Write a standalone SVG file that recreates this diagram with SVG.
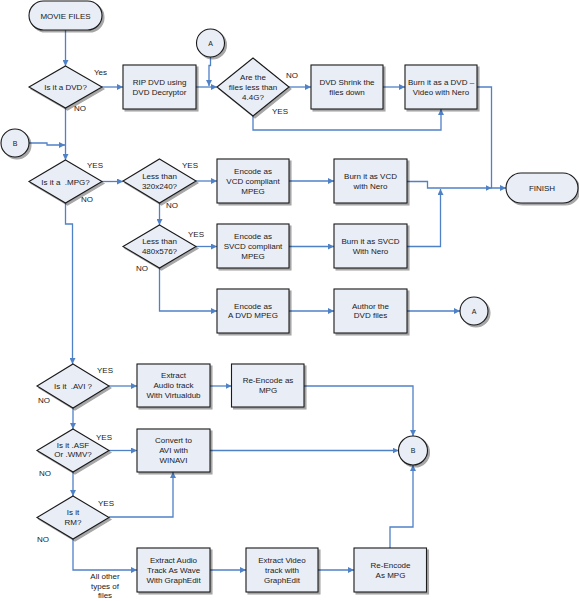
<svg xmlns="http://www.w3.org/2000/svg" width="579" height="601" viewBox="0 0 579 601">
<style>
.s{fill:#e9edf6;stroke:#1a1a1a;stroke-width:1.1;filter:url(#sh)}
.c path{fill:none;stroke:#4f81c7;stroke-width:1.3;marker-end:url(#ar)}
text{font-family:"Liberation Sans",Arial,sans-serif;font-size:8px;fill:#1a1a1a}
.m{text-anchor:middle}
.sm{font-size:7px}
</style>
<defs>
<filter id="sh" x="-10%" y="-10%" width="130%" height="130%">
<feGaussianBlur in="SourceAlpha" stdDeviation="0.6" result="b"/>
<feOffset in="b" dx="1.5" dy="1.5" result="o"/>
<feComponentTransfer in="o" result="o2"><feFuncA type="linear" slope="0.35"/></feComponentTransfer>
<feMerge><feMergeNode in="o2"/><feMergeNode in="SourceGraphic"/></feMerge>
</filter>
<marker id="ar" viewBox="0 0 6 6" refX="6" refY="3" markerWidth="6" markerHeight="6" markerUnits="userSpaceOnUse" orient="auto">
<path d="M0,0 L6,3 L0,6 z" fill="#4f81c7"/>
</marker>
</defs>

<g class="c" id="connectors">
<path d="M65.5,30 V66"/>
<path d="M102,87 H123"/>
<path d="M196,87 H217"/>
<path d="M210.5,57 V65.5 H209 V86"/>
<path d="M289,87 H311"/>
<path d="M383,87 H405"/>
<path d="M253,116 V130 H441 V109"/>
<path d="M477,87 H491.5 V188 H506"/>
<path d="M407,181.5 H427.5 V188 H491.5"/>
<path d="M407,246.5 H440.5 V189"/>
<path d="M65.5,108 V160"/>
<path d="M29,143 H47 V145 H65"/>
<path d="M102,181.5 H123"/>
<path d="M196,181 H217"/>
<path d="M289,181 H334"/>
<path d="M159.5,203 V225"/>
<path d="M196,246.5 H217"/>
<path d="M289,246.5 H334"/>
<path d="M159.5,268 V311 H217"/>
<path d="M289,311 H334"/>
<path d="M407,311 H460"/>
<path d="M65.5,203 V224 H72.5 V364"/>
<path d="M109,386 H137"/>
<path d="M210,386 H231.5"/>
<path d="M304,386 H413 V436"/>
<path d="M73,408 V429"/>
<path d="M109,450.5 H137"/>
<path d="M210,450.5 H398.5"/>
<path d="M73,472 V496"/>
<path d="M109,517 H173 V472"/>
<path d="M73,539 V570 H137"/>
<path d="M210,570 H246"/>
<path d="M318,570 H354"/>
<path d="M390,548 V527 H413 V465"/>
</g>

<g id="movie-files"><rect class="s" x="29" y="1" width="73" height="29" rx="14.5"/><text class="m" x="65.5" y="18.5">MOVIE FILES</text></g>
<g id="is-dvd"><polygon class="s" points="65.5,66 102,87 65.5,108 29,87"/><text class="m" x="65.5" y="90">Is it a DVD?</text><text x="94" y="75">Yes</text><text x="74" y="111">NO</text></g>
<g id="rip-dvd"><rect class="s" x="123" y="65" width="73" height="44"/><text class="m" x="159.5" y="84.5">RIP DVD using</text><text class="m" x="159.5" y="94.5">DVD Decryptor</text></g>
<g id="circle-a-top"><circle class="s" cx="210.5" cy="43" r="14"/><text class="m sm" x="210.5" y="45.5">A</text></g>
<g id="less-44g"><polygon class="s" points="253,58 289,87 253,116 217,87"/><text class="m" x="253" y="79.5">Are the</text><text class="m" x="253" y="89.5">files less than</text><text class="m" x="253" y="99.5">4.4G?</text><text x="286" y="78">NO</text><text x="272" y="114">YES</text></g>
<g id="dvd-shrink"><rect class="s" x="311" y="65" width="72" height="44"/><text class="m" x="347" y="84.5">DVD Shrink the</text><text class="m" x="347" y="94.5">files down</text></g>
<g id="burn-dvd"><rect class="s" x="405" y="65" width="72" height="44"/><text class="m" x="441" y="84.5">Burn it as a DVD –</text><text class="m" x="441" y="94.5">Video with Nero</text></g>
<g id="finish"><rect class="s" x="506" y="173" width="72" height="30" rx="15"/><text class="m" x="542" y="191">FINISH</text></g>
<g id="circle-b-left"><circle class="s" cx="15" cy="143" r="14"/><text class="m sm" x="15" y="145.5">B</text></g>
<g id="is-mpg"><polygon class="s" points="65.5,160 102,181.5 65.5,203 29,181.5"/><text class="m" x="65.5" y="184.5" xml:space="preserve">Is it a  .MPG?</text><text x="87" y="168">YES</text><text x="81" y="202">NO</text></g>
<g id="less-320"><polygon class="s" points="159.5,159 196,181 159.5,203 123,181"/><text class="m" x="159.5" y="178.5">Less than</text><text class="m" x="159.5" y="188.5">320x240?</text><text x="182" y="168">YES</text><text x="166" y="208">NO</text></g>
<g id="encode-vcd"><rect class="s" x="217" y="159" width="72" height="44"/><text class="m" x="253" y="174">Encode as</text><text class="m" x="253" y="184">VCD compliant</text><text class="m" x="253" y="194">MPEG</text></g>
<g id="burn-vcd"><rect class="s" x="334" y="159" width="73" height="44"/><text class="m" x="370.5" y="178.5">Burn it as VCD</text><text class="m" x="370.5" y="188.5">with Nero</text></g>
<g id="less-480"><polygon class="s" points="159.5,225 196,246.5 159.5,268 123,246.5"/><text class="m" x="159.5" y="244">Less than</text><text class="m" x="159.5" y="254">480x576?</text><text x="188" y="237">YES</text><text x="136" y="271">NO</text></g>
<g id="encode-svcd"><rect class="s" x="217" y="224" width="72" height="44"/><text class="m" x="253" y="239">Encode as</text><text class="m" x="253" y="249">SVCD compliant</text><text class="m" x="253" y="259">MPEG</text></g>
<g id="burn-svcd"><rect class="s" x="334" y="224" width="73" height="44"/><text class="m" x="370.5" y="243.5">Burn it as SVCD</text><text class="m" x="370.5" y="253.5">With Nero</text></g>
<g id="encode-dvd"><rect class="s" x="217" y="289" width="72" height="44"/><text class="m" x="253" y="308.5">Encode as</text><text class="m" x="253" y="318">A DVD MPEG</text></g>
<g id="author-dvd"><rect class="s" x="334" y="289" width="73" height="44"/><text class="m" x="370.5" y="308.5">Author the</text><text class="m" x="370.5" y="318">DVD files</text></g>
<g id="circle-a-right"><circle class="s" cx="474" cy="311" r="14"/><text class="m sm" x="474" y="313.5">A</text></g>
<g id="is-avi"><polygon class="s" points="73,364 109,386 73,408 37,386"/><text class="m" x="73" y="389" xml:space="preserve">Is it  .AVI ?</text><text x="97" y="373">YES</text><text x="38" y="403">NO</text></g>
<g id="extract-audio"><rect class="s" x="137" y="364" width="73" height="43"/><text class="m" x="173.5" y="378">Extract</text><text class="m" x="173.5" y="388">Audio track</text><text class="m" x="173.5" y="398">With Virtualdub</text></g>
<g id="reencode-1"><rect class="s" x="231.5" y="364" width="72.5" height="43"/><text class="m" x="268" y="383">Re-Encode as</text><text class="m" x="268" y="393">MPG</text></g>
<g id="is-asf"><polygon class="s" points="73,429 109,450.5 73,472 37,450.5"/><text class="m" x="73" y="448">Is it .ASF</text><text class="m" x="73" y="457">Or .WMV?</text><text x="96" y="440">YES</text><text x="39" y="476">NO</text></g>
<g id="convert-avi"><rect class="s" x="137" y="429" width="73" height="43"/><text class="m" x="173.5" y="443">Convert to</text><text class="m" x="173.5" y="453">AVI with</text><text class="m" x="173.5" y="463">WINAVI</text></g>
<g id="circle-b-right"><circle class="s" cx="413" cy="450.5" r="14.5"/><text class="m sm" x="413" y="453">B</text></g>
<g id="is-rm"><polygon class="s" points="73,496 109,517.5 73,539 37,517.5"/><text class="m" x="73" y="514.5">Is it</text><text class="m" x="73" y="524.5">RM?</text><text x="98" y="506">YES</text><text x="37" y="542">NO</text></g>
<text class="m" x="105" y="578.5">All other</text>
<text class="m" x="105" y="588.5">types of</text>
<text class="m" x="105" y="598">files</text>
<g id="extract-wave"><rect class="s" x="137" y="548" width="73" height="44"/><text class="m" x="173.5" y="562.5">Extract Audio</text><text class="m" x="173.5" y="572.5">Track As Wave</text><text class="m" x="173.5" y="582.5">With GraphEdit</text></g>
<g id="extract-video"><rect class="s" x="246" y="548" width="72" height="44"/><text class="m" x="282" y="562.5">Extract Video</text><text class="m" x="282" y="572.5">track with</text><text class="m" x="282" y="582.5">GraphEdit</text></g>
<g id="reencode-2"><rect class="s" x="354" y="548" width="72.5" height="44"/><text class="m" x="390.5" y="567.5">Re-Encode</text><text class="m" x="390.5" y="577.5">As MPG</text></g>
</svg>
